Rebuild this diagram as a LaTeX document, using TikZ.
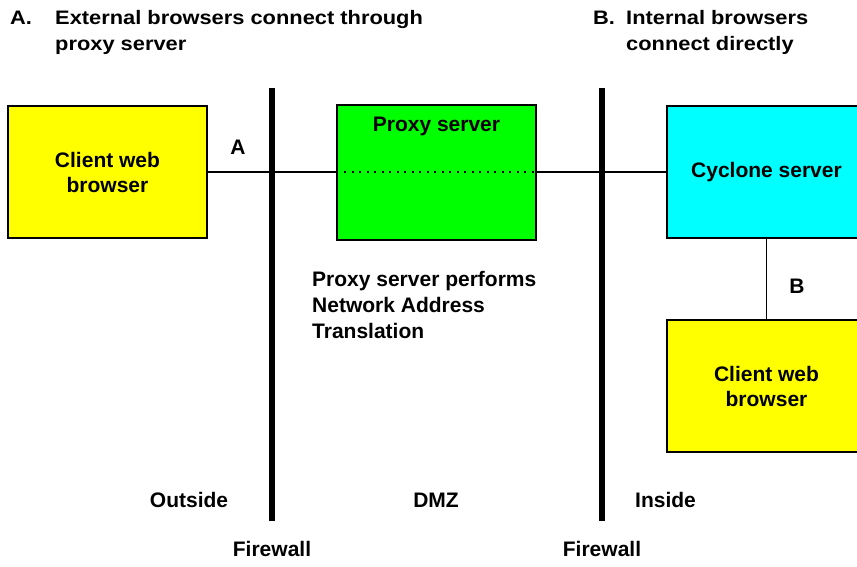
\documentclass[tikz,border=0pt]{standalone}
\usepackage{fontspec}
\setmainfont{Liberation Sans}
\newfontfamily\titlefont[FakeStretch=1.12]{Liberation Sans}
\definecolor{cyel}{RGB}{255,255,0}
\definecolor{cgrn}{RGB}{0,255,0}
\definecolor{ccyan}{RGB}{0,255,255}
\begin{document}
\begin{tikzpicture}[x=1pt,y=-1pt,
  box/.style={draw=black,line width=1.3pt,minimum width=199pt,font=\bfseries\fontsize{21}{25}\selectfont,align=center,inner sep=0pt},
  lbl/.style={font=\bfseries\fontsize{21}{26}\selectfont,inner sep=0pt},
  title/.style={font=\titlefont\bfseries\fontsize{19.5}{26}\selectfont,align=left,inner sep=0pt,anchor=north west},
  wire/.style={line width=1.3pt},
  dots/.style={line width=2pt,dash pattern=on 2pt off 5.5pt},
  fw/.style={line width=6pt}]
\useasboundingbox (0,0) rectangle (857,566);
% boxes
\node[box,fill=cyel,minimum height=132pt] (c1) at (107.5,172) {Client web\\browser};
\node[box,fill=cgrn,minimum height=135pt] (px) at (436.5,172.5) {};
\node[lbl] (pxl) at (436.5,126) {Proxy server};
\node[box,fill=ccyan,minimum height=132pt] (cy) at (766.5,172) {Cyclone server};
\node[box,fill=cyel,minimum height=132pt] (c2) at (766.5,386) {Client web\\browser};
% firewalls
\coordinate (f1t) at (272,88); \coordinate (f1b) at (272,521);
\coordinate (f2t) at (602,88); \coordinate (f2b) at (602,521);
\draw[fw] (f1t) -- (f1b);
\draw[fw] (f2t) -- (f2b);
% connectors
\draw[wire] (c1.east |- 0,172) -- (px.west |- 0,172);
\draw[dots] ([xshift=8pt]px.west |- 0,172) -- (px.east |- 0,172);
\draw[wire] (px.east |- 0,172) -- (cy.west |- 0,172);
\draw[wire] (cy.south) -- (c2.north);
% labels
\node[lbl] (la) at (238,147) {A};
\node[lbl] (lb) at (797,286) {B};
\node[lbl,align=left,anchor=north west] (nat) at (312,271) {Proxy server performs\\Network Address\\Translation};
\node[lbl] (out) at (189,500) {Outside};
\node[lbl] (dmz) at (436,500) {DMZ};
\node[lbl,anchor=west] (ins) at (635,500) {Inside};
\node[lbl] (fwl1) at (272,549) {Firewall};
\node[lbl] (fwl2) at (602,549) {Firewall};
\node[title] (ta) at (10,10) {\vphantom{lb}A.};
\node[title] (tat) at (55,10) {External browsers connect through\\proxy server};
\node[title] (tb) at (593,10) {\vphantom{lb}B.};
\node[title] (tbt) at (626,10) {Internal browsers\\connect directly};
\end{tikzpicture}
\end{document}
